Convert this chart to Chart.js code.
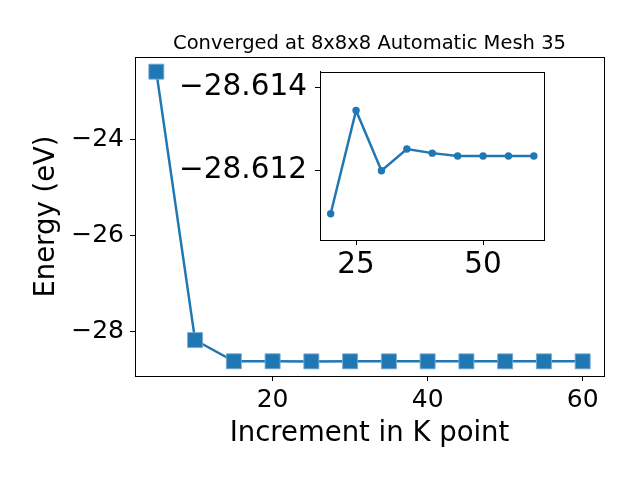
<!DOCTYPE html>
<html>
<head>
<meta charset="utf-8">
<script src="https://cdn.jsdelivr.net/npm/chart.js@4"></script>
<style>
  html, body { margin: 0; padding: 0; background: #fff; }
  #wrap { position: relative; width: 640px; height: 480px; }
  #mainChart { position: absolute; left: 0; top: 0; }
  #insetChart { position: absolute; left: 160px; top: 46px; }
</style>
</head>
<body>
<div id="wrap">
  <canvas id="mainChart" width="640" height="480"></canvas>
  <canvas id="insetChart" width="410" height="244"></canvas>
</div>
<script>
// main plot data
const kPoints = [5, 10, 15, 20, 25, 30, 35, 40, 45, 50, 55, 60];
const energies = [-22.59, -28.17, -28.611, -28.611, -28.613, -28.612, -28.6125, -28.6124, -28.6124, -28.6124, -28.6124, -28.6124];
const mainXTicks = [20, 40, 60];
const mainYTicks = [-28, -26, -24];

// inset (zoom on converged part)
const insetK = [20, 25, 30, 35, 40, 45, 50, 55, 60];
const insetE = [-28.61097, -28.61344, -28.6120, -28.61252, -28.61242, -28.61235, -28.61235, -28.61235, -28.61235];
const insetXTicks = [25, 50];
const insetYTicks = [-28.614, -28.612];

const titleText = 'Converged at 8x8x8 Automatic Mesh 35';
const blue = '#1f77b4';
const FONT = "'DejaVu Sans', sans-serif";

function minus(v, digits) {
    let s = digits ? Math.abs(v).toFixed(digits) : String(Math.abs(v));
    return (v < 0 ? '\u2212' : '') + s;
}

// box around the axes, like matplotlib spines
const frame = {
    id: 'frame',
    beforeDraw(chart, args, opts) {
        const a = chart.chartArea;
        const ctx = chart.ctx;
        if (opts.fill) {
            ctx.save();
            ctx.fillStyle = opts.fill;
            ctx.fillRect(a.left, a.top, a.right - a.left, a.bottom - a.top);
            ctx.restore();
        }
    },
    afterDraw(chart) {
        const a = chart.chartArea;
        const ctx = chart.ctx;
        ctx.save();
        ctx.strokeStyle = '#000';
        ctx.lineWidth = 1;
        ctx.strokeRect(Math.round(a.left) + 0.5, Math.round(a.top) + 0.5, Math.round(a.right - a.left), Math.round(a.bottom - a.top));
        ctx.restore();
    }
};

// title centred over the axes
const axTitle = {
    id: 'axTitle',
    afterDraw(chart, args, opts) {
        if (!opts.text) return;
        const a = chart.chartArea;
        const ctx = chart.ctx;
        ctx.save();
        ctx.font = opts.size + 'px ' + FONT;
        ctx.fillStyle = '#000';
        ctx.textAlign = 'center';
        ctx.textBaseline = 'alphabetic';
        ctx.fillText(opts.text, (a.left + a.right) / 2, opts.y);
        ctx.restore();
    }
};

function axisStyle(size) {
    return {
        grid: { display: true, drawOnChartArea: false, drawTicks: true, tickLength: 5, color: '#000', lineWidth: 1 },
        border: { display: true, color: '#000', width: 1 },
        ticks: { color: '#000', font: { family: FONT, size: size }, maxRotation: 0 }
    };
}

const mx = axisStyle(25);
const my = axisStyle(25);

new Chart(document.getElementById('mainChart').getContext('2d'), {
    type: 'line',
    data: {
        datasets: [{
            data: kPoints.map((k, i) => ({ x: k, y: energies[i] })),
            borderColor: blue,
            backgroundColor: blue,
            borderWidth: 2.5,
            pointStyle: 'rect',
            pointRadius: 10.6,
            pointBorderWidth: 1,
            pointBorderColor: 'rgba(120,170,210,0.9)',
            tension: 0
        }]
    },
    options: {
        responsive: false,
        animation: false,
        events: [],
        layout: { padding: { left: 0, right: 36, top: 57, bottom: 0 } },
        plugins: {
            legend: { display: false },
            tooltip: { enabled: false },
            axTitle: { text: titleText, size: 19.5, y: 48.5 }
        },
        scales: {
            x: {
                type: 'linear',
                min: 2.25, max: 62.75,
                ...mx,
                ticks: { ...mx.ticks, padding: 4, callback: v => minus(v) },
                afterBuildTicks: s => { s.ticks = mainXTicks.map(v => ({ value: v })); },
                afterFit: s => { s.height = 104; },
                title: { display: true, text: 'Increment in K point', color: '#000', font: { family: FONT, size: 27.5 }, padding: { top: 0, bottom: 30 } }
            },
            y: {
                type: 'linear',
                min: -28.917, max: -22.285,
                ...my,
                ticks: { ...my.ticks, padding: 6, callback: v => minus(v) },
                afterBuildTicks: s => { s.ticks = mainYTicks.map(v => ({ value: v })); },
                afterFit: s => { s.width = 135; },
                title: { display: true, text: 'Energy (eV)', color: '#000', font: { family: FONT, size: 27.5 }, padding: { top: 30, bottom: 0 } }
            }
        }
    },
    plugins: [frame, axTitle]
});

const ix = axisStyle(29.5);
const iy = axisStyle(29.5);

new Chart(document.getElementById('insetChart').getContext('2d'), {
    type: 'line',
    data: {
        datasets: [{
            data: insetK.map((k, i) => ({ x: k, y: insetE[i] })),
            borderColor: blue,
            backgroundColor: blue,
            borderWidth: 2.5,
            pointStyle: 'circle',
            pointRadius: 3.7,
            pointBorderWidth: 0,
            tension: 0
        }]
    },
    options: {
        responsive: false,
        animation: false,
        events: [],
        layout: { padding: { left: 0, right: 26, top: 22, bottom: 0 } },
        plugins: {
            legend: { display: false },
            tooltip: { enabled: false },
            frame: { fill: '#fff' }
        },
        scales: {
            x: {
                type: 'linear',
                min: 17.9, max: 62.0,
                ...ix,
                ticks: { ...ix.ticks, padding: 3, callback: v => minus(v) },
                afterBuildTicks: s => { s.ticks = insetXTicks.map(v => ({ value: v })); },
                afterFit: s => { s.height = 50; }
            },
            y: {
                type: 'linear',
                reverse: true,
                min: -28.61437, max: -28.61034,
                ...iy,
                ticks: { ...iy.ticks, padding: 8, callback: v => minus(v, 3) },
                afterBuildTicks: s => { s.ticks = insetYTicks.map(v => ({ value: v })); },
                afterFit: s => { s.width = 160; }
            }
        }
    },
    plugins: [frame]
});
</script>
</body>
</html>
